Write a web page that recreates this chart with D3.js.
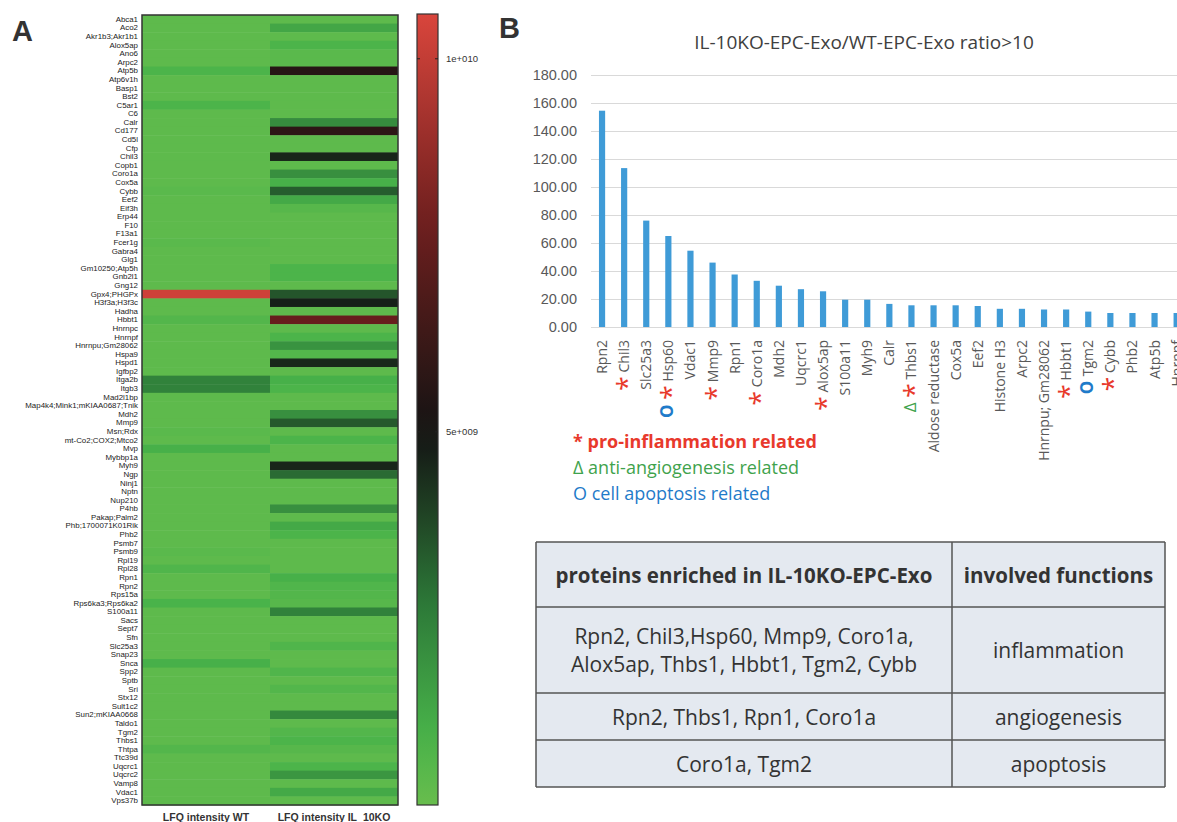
<!DOCTYPE html>
<html>
<head>
<meta charset="utf-8">
<script src="https://cdn.jsdelivr.net/npm/d3@7"></script>
<style>
  body { margin: 0; background: #fff; }
  svg { display: block; }
</style>
</head>
<body>
<script>
// ---- panel A data: heatmap (LFQ intensity, units of 1e9) ----
const heatGenes = [
  "Abca1", "Aco2", "Akr1b3;Akr1b1", "Alox5ap", "Ano6", "Arpc2", "Atp5b", "Atp6v1h", "Basp1", "Bst2",
  "C5ar1", "C6", "Calr", "Cd177", "Cd5l", "Cfp", "Chil3", "Copb1", "Coro1a", "Cox5a",
  "Cybb", "Eef2", "Eif3h", "Erp44", "F10", "F13a1", "Fcer1g", "Gabra4", "Glg1", "Gm10250;Atp5h",
  "Gnb2l1", "Gng12", "Gpx4;PHGPx", "H3f3a;H3f3c", "Hadha", "Hbbt1", "Hnrnpc", "Hnrnpf", "Hnrnpu;Gm28062", "Hspa9",
  "Hspd1", "Igfbp2", "Itga2b", "Itgb3", "Mad2l1bp", "Map4k4;Mink1;mKIAA0687;Tnik", "Mdh2", "Mmp9", "Msn;Rdx", "mt-Co2;COX2;Mtco2",
  "Mvp", "Mybbp1a", "Myh9", "Ngp", "Ninj1", "Nptn", "Nup210", "P4hb", "Pakap;Palm2", "Phb;1700071K01Rik",
  "Phb2", "Psmb7", "Psmb9", "Rpl19", "Rpl28", "Rpn1", "Rpn2", "Rps15a", "Rps6ka3;Rps6ka2", "S100a11",
  "Sacs", "Sept7", "Sfn", "Slc25a3", "Snap23", "Snca", "Spp2", "Sptb", "Sri", "Stx12",
  "Sult1c2", "Sun2;mKIAA0668", "Taldo1", "Tgm2", "Thbs1", "Thtpa", "Ttc39d", "Uqcrc1", "Uqcrc2", "Vamp8",
  "Vdac1", "Vps37b"
];
const wtValues = [
  0.3, 0.3, 0.3, 0.3, 0.3, 0.3, 0.8, 0.3, 0.3, 0.3,
  0.8, 0.3, 0.3, 0.3, 0.3, 0.3, 0.3, 0.3, 0.3, 0.3,
  0.4, 0.3, 0.3, 0.3, 0.3, 0.3, 0.4, 0.3, 0.3, 0.3,
  0.3, 0.3, 10.3, 0.3, 0.3, 0.6, 0.3, 0.3, 0.3, 0.3,
  0.3, 0.3, 2.4, 2.4, 0.3, 0.3, 0.3, 0.3, 0.4, 0.3,
  1.0, 0.3, 0.3, 0.3, 0.3, 0.3, 0.3, 0.3, 0.3, 0.3,
  0.3, 0.3, 0.4, 0.3, 0.7, 0.3, 0.3, 0.3, 0.9, 0.3,
  0.3, 0.3, 0.3, 0.3, 0.3, 1.0, 0.3, 0.3, 0.3, 0.3,
  0.3, 0.3, 0.3, 0.3, 0.3, 0.6, 0.3, 0.3, 0.3, 0.3,
  0.3, 0.3
];
const koValues = [
  0.3, 1.3, 0.3, 0.8, 0.4, 0.4, 5.6, 0.3, 0.3, 0.3,
  0.3, 0.3, 2.1, 5.8, 0.3, 0.3, 4.6, 0.3, 2.0, 1.0,
  3.3, 1.2, 0.5, 0.3, 0.3, 0.3, 0.3, 0.3, 0.3, 0.8,
  0.8, 0.3, 3.5, 4.7, 0.3, 7.6, 0.3, 0.8, 1.9, 0.6,
  4.5, 0.3, 1.0, 0.8, 0.3, 0.3, 2.0, 3.4, 0.3, 0.8,
  0.3, 0.3, 4.6, 3.0, 0.3, 0.3, 0.3, 2.0, 0.3, 1.2,
  0.8, 0.3, 0.3, 0.3, 0.3, 1.0, 0.7, 0.6, 0.5, 2.4,
  0.3, 0.3, 0.3, 0.7, 0.3, 0.3, 0.7, 0.3, 0.6, 0.3,
  0.3, 2.2, 0.3, 0.6, 0.8, 0.5, 0.3, 0.8, 1.8, 0.3,
  1.2, 0.3
];
const heatColumns = ["LFQ intensity WT", "LFQ intensity IL_10KO"];
const colorbarTicks = [10, 5];
const colorbarLabels = ["1e+010", "5e+009"];

// ---- panel B data: ratio bar chart ----
const barGenes = [
  "Rpn2", "Chil3", "Slc25a3", "Hsp60", "Vdac1", "Mmp9", "Rpn1", "Coro1a", "Mdh2", "Uqcrc1",
  "Alox5ap", "S100a11", "Myh9", "Calr", "Thbs1", "Aldose reductase", "Cox5a", "Eef2", "Histone H3", "Arpc2",
  "Hnrnpu; Gm28062", "Hbbt1", "Tgm2", "Cybb", "Phb2", "Atp5b", "Hnrnpf"
];
const barRatios = [
  154.5, 113.5, 76, 65, 54.5, 46, 37.5, 33, 29.5, 27,
  25.5, 19.5, 19.5, 16.5, 15.5, 15.5, 15.5, 15, 13, 13,
  12.5, 12.5, 11, 10, 10, 10, 10
];
const yTicks = [0, 20, 40, 60, 80, 100, 120, 140, 160, 180];
const inflammationGenes = ["Chil3", "Hsp60", "Mmp9", "Coro1a", "Alox5ap", "Thbs1", "Hbbt1", "Cybb"];
const angiogenesisGenes = ["Thbs1"];
const apoptosisGenes = ["Hsp60", "Tgm2"];
const legendItems = ["* pro-inflammation related", "Δ anti-angiogenesis related", "O cell apoptosis related"];

// ---- panel B data: table ----
const tableHeader = ["proteins enriched in IL-10KO-EPC-Exo", "involved functions"];
const tableProteins = [
  ["Rpn2, Chil3,Hsp60, Mmp9, Coro1a,", "Alox5ap, Thbs1, Hbbt1, Tgm2, Cybb"],
  ["Rpn2, Thbs1, Rpn1, Coro1a"],
  ["Coro1a, Tgm2"]
];
const tableFunctions = ["inflammation", "angiogenesis", "apoptosis"];

document.addEventListener("DOMContentLoaded", () => {
  const canvass = { width: 1177, height: 822 };
  const red = "#e8392c", green = "#3fa34d", blue = "#1f7bc9", grey = "#595959";

  const svg = d3
    .select("body")
    .append("svg")
    .attr("width", canvass.width)
    .attr("height", canvass.height)
    .style("font-family", "'Open Sans', sans-serif");

  const panelLetter = (txt, x, y) =>
    svg
      .append("text")
      .attr("x", x)
      .attr("y", y)
      .text(txt)
      .style("font-family", "'Liberation Sans', Arial, sans-serif")
      .style("font-weight", "bold")
      .style("font-size", "29px")
      .style("fill", "#333");

  // green -> black -> red, like the colour key
  const heatColor = d3
    .scaleLinear()
    .domain([0, 0.9, 2.6, 5, 7.8, 10.6])
    .range(["#68bd4d", "#49b34a", "#2e7c39", "#131313", "#6e1f1e", "#d9453c"]);

  const createHeatmap = () => {
    const box = { left: 142, right: 398, top: 15, bottom: 805 };
    const yScale = d3.scaleBand().domain(heatGenes).range([box.top, box.bottom]);
    const xScale = d3.scaleBand().domain(heatColumns).range([box.left, box.right]);

    const cells = [];
    heatGenes.forEach((g, i) => {
      cells.push({ gene: g, col: heatColumns[0], v: wtValues[i] });
      cells.push({ gene: g, col: heatColumns[1], v: koValues[i] });
    });

    svg
      .append("g")
      .selectAll("rect")
      .data(cells)
      .enter()
      .append("rect")
      .attr("x", (d) => xScale(d.col))
      .attr("y", (d) => yScale(d.gene))
      .attr("width", xScale.bandwidth())
      .attr("height", yScale.bandwidth() + 0.5)
      .attr("fill", (d) => heatColor(d.v));

    svg
      .append("rect")
      .attr("x", box.left)
      .attr("y", box.top)
      .attr("width", box.right - box.left)
      .attr("height", box.bottom - box.top)
      .attr("fill", "none")
      .attr("stroke", "#333")
      .attr("stroke-width", 1.5);

    const yAxis = svg
      .append("g")
      .attr("transform", `translate(${box.left - 2},0)`)
      .call(d3.axisLeft(yScale).tickSize(0).tickPadding(2));
    yAxis.select(".domain").remove();
    yAxis
      .selectAll("text")
      .style("font-family", "'Liberation Sans', Arial, sans-serif")
      .style("font-size", "7.9px")
      .style("fill", "#222");

    const xAxis = svg
      .append("g")
      .attr("transform", `translate(0,${box.bottom + 6})`)
      .call(d3.axisBottom(xScale).tickSize(0));
    xAxis.select(".domain").remove();
    xAxis
      .selectAll("text")
      .style("font-family", "'Liberation Sans', Arial, sans-serif")
      .style("font-size", "10.5px")
      .style("font-weight", "bold")
      .style("fill", "#333");
  };

  const createColorbar = () => {
    const cb = { x: 417, w: 21, top: 14, bottom: 805 };
    const cbScale = d3.scaleLinear().domain([0, 10.6]).range([cb.bottom, cb.top]);
    const grad = svg
      .append("defs")
      .append("linearGradient")
      .attr("id", "cbGrad")
      .attr("x1", 0).attr("x2", 0).attr("y1", 1).attr("y2", 0);
    d3.range(0, 10.61, 0.53).forEach((v) => {
      grad
        .append("stop")
        .attr("offset", v / 10.6)
        .attr("stop-color", heatColor(v));
    });
    svg
      .append("rect")
      .attr("x", cb.x)
      .attr("y", cb.top)
      .attr("width", cb.w)
      .attr("height", cb.bottom - cb.top)
      .attr("fill", "url(#cbGrad)")
      .attr("stroke", "#333")
      .attr("stroke-width", 1.2);

    const ax = svg
      .append("g")
      .attr("transform", `translate(${cb.x + cb.w},0)`)
      .call(
        d3
          .axisRight(cbScale)
          .tickValues(colorbarTicks)
          .tickSize(0)
          .tickPadding(8)
          .tickFormat((d, i) => colorbarLabels[i])
      );
    ax.select(".domain").remove();
    ax.selectAll("text").style("font-size", "9.5px").style("fill", "#333");
    // small tick marks on both edges of the key
    colorbarTicks.forEach((t) => {
      [cb.x, cb.x + cb.w - 3].forEach((x) => {
        svg
          .append("line")
          .attr("x1", x).attr("x2", x + 3)
          .attr("y1", cbScale(t)).attr("y2", cbScale(t))
          .attr("stroke", "#222");
      });
    });
  };

  const createBarChart = () => {
    const left = 591, right = 1177, step = 22.1;
    const xScale = d3
      .scaleBand()
      .domain(barGenes)
      .range([left, left + step * barGenes.length])
      .paddingInner(0.72)
      .paddingOuter(0.36);
    const yScale = d3.scaleLinear().domain([0, 180]).range([327, 75]);

    svg
      .append("text")
      .attr("x", 864)
      .attr("y", 49)
      .attr("text-anchor", "middle")
      .text("IL-10KO-EPC-Exo/WT-EPC-Exo ratio>10")
      .style("font-size", "19px")
      .style("fill", "#404040");

    const yAxis = svg
      .append("g")
      .attr("transform", `translate(${left},0)`)
      .call(
        d3
          .axisLeft(yScale)
          .tickValues(yTicks)
          .tickSize(-(right - left))
          .tickPadding(14)
          .tickFormat(d3.format(".2f"))
      );
    yAxis.select(".domain").remove();
    yAxis.selectAll("line").attr("stroke", "#d9d9d9");
    yAxis.selectAll("text").style("font-size", "14.5px").style("fill", grey);

    svg
      .append("g")
      .selectAll("rect")
      .data(barRatios)
      .enter()
      .append("rect")
      .attr("x", (d, i) => xScale(barGenes[i]))
      .attr("y", (d) => yScale(d))
      .attr("width", xScale.bandwidth())
      .attr("height", (d) => yScale(0) - yScale(d))
      .attr("fill", "#3f9bd7");

    // rotated category labels, markers sit below the name
    const labels = svg
      .append("g")
      .selectAll("text")
      .data(barGenes)
      .enter()
      .append("text")
      .attr(
        "transform",
        (d) => `translate(${xScale(d) + xScale.bandwidth() / 2 + 5},340) rotate(-90)`
      )
      .attr("text-anchor", "end")
      .style("font-size", "14px");

    labels.each(function (g) {
      const t = d3.select(this);
      if (apoptosisGenes.includes(g))
        t.append("tspan").text("O ").style("fill", blue).style("font-size", "17px").style("font-weight", "bold");
      if (angiogenesisGenes.includes(g))
        t.append("tspan").text("Δ ").style("fill", green).style("font-size", "17px");
      if (inflammationGenes.includes(g)) {
        t.append("tspan").text("*").attr("dy", "8px").style("fill", red).style("font-size", "27px");
        t.append("tspan").text(" " + g).attr("dy", "-8px").style("fill", grey);
      } else {
        t.append("tspan").text(g).style("fill", grey);
      }
    });

    const legend = svg.append("g").style("font-size", "18px");
    const legendColors = [red, green, blue];
    legendItems.forEach((txt, i) => {
      legend
        .append("text")
        .attr("x", 573)
        .attr("y", 448 + i * 26)
        .text(txt)
        .style("fill", legendColors[i])
        .style("font-weight", i === 0 ? "bold" : "normal");
    });
  };

  const createTable = () => {
    const colX = [536, 952, 1165];
    const rowY = [542, 607, 693, 740, 787];
    const t = svg.append("g");

    t.append("rect")
      .attr("x", colX[0]).attr("y", rowY[0])
      .attr("width", colX[2] - colX[0]).attr("height", rowY[4] - rowY[0])
      .attr("fill", "#e4e9f0");

    rowY.forEach((y) => {
      t.append("line")
        .attr("x1", colX[0]).attr("x2", colX[2])
        .attr("y1", y).attr("y2", y)
        .attr("stroke", "#555").attr("stroke-width", 1.5);
    });
    colX.forEach((x) => {
      t.append("line")
        .attr("x1", x).attr("x2", x)
        .attr("y1", rowY[0]).attr("y2", rowY[4])
        .attr("stroke", "#555").attr("stroke-width", 1.5);
    });

    const c1 = (colX[0] + colX[1]) / 2;
    const c2 = (colX[1] + colX[2]) / 2;
    const cellText = (x, yMid, lines, bold) => {
      lines.forEach((ln, j) => {
        t.append("text")
          .attr("x", x)
          .attr("y", yMid + (j - (lines.length - 1) / 2) * 28)
          .attr("text-anchor", "middle")
          .attr("dominant-baseline", "central")
          .text(ln)
          .style("font-size", bold ? "20.5px" : "21px")
          .style("font-weight", bold ? "bold" : "normal")
          .style("fill", "#333");
      });
    };
    cellText(c1, (rowY[0] + rowY[1]) / 2, [tableHeader[0]], true);
    cellText(c2, (rowY[0] + rowY[1]) / 2, [tableHeader[1]], true);
    tableProteins.forEach((lines, i) => {
      const mid = (rowY[i + 1] + rowY[i + 2]) / 2;
      cellText(c1, mid, lines, false);
      cellText(c2, mid, [tableFunctions[i]], false);
    });
  };

  panelLetter("A", 12, 41);
  panelLetter("B", 499, 38);
  createHeatmap();
  createColorbar();
  createBarChart();
  createTable();
});
</script>
</body>
</html>
